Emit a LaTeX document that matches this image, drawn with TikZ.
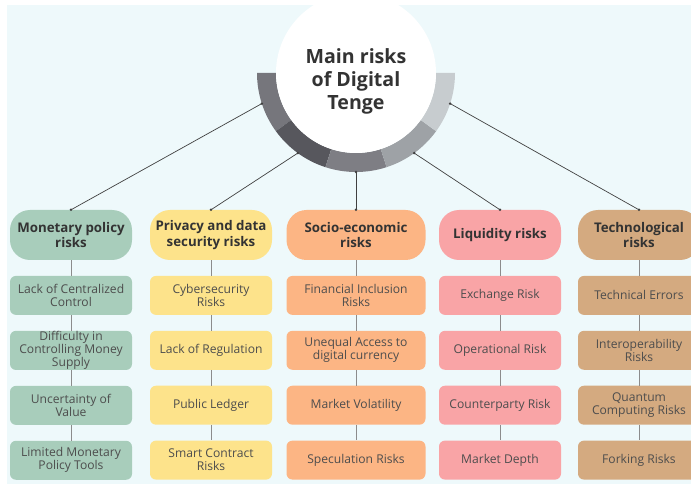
\documentclass[tikz,border=0pt]{standalone}
\usepackage{fontspec}
\setmainfont{Open Sans}
\usetikzlibrary{positioning, calc}

\definecolor{bgblue}{HTML}{EEF9FB}
\definecolor{monclr}{HTML}{A8CDBB}
\definecolor{privclr}{HTML}{FDE38B}
\definecolor{socioclr}{HTML}{FCB584}
\definecolor{liqclr}{HTML}{F9A4A6}
\definecolor{techclr}{HTML}{D4AA80}
\definecolor{ring1}{HTML}{76767C}
\definecolor{ring2}{HTML}{57575D}
\definecolor{ring3}{HTML}{7E7E84}
\definecolor{ring4}{HTML}{9EA2A6}
\definecolor{ring5}{HTML}{C7CCCF}
\definecolor{headtxt}{HTML}{333333}
\definecolor{subtxt}{HTML}{4D4D4D}

\tikzset{
	head/.style={rounded corners=20pt, minimum width=122pt, minimum height=50pt, inner sep=1pt,
		align=center, text=headtxt, font=\fontsize{13.3}{15.5}\selectfont\bfseries},
	item/.style={rounded corners=6pt, minimum width=122pt, minimum height=39pt, inner sep=0.5pt,
		align=center, text=subtxt, font=\fontsize{12.1}{13}\selectfont},
	link/.style={draw=black!75, line width=0.7pt},
	stem/.style={draw=black!45, line width=0.9pt}
}

\begin{document}
\begin{tikzpicture}[x=1pt, y=-1pt, node distance=15.5pt]
			\useasboundingbox (0,0) rectangle (691,486);
			\clip (0,0) rectangle (691,486);
			\fill[white] (0,0) rectangle (691,486);
			\fill[bgblue] (7,5) rectangle (691,484); % background

			% Grey ring under the hub
			\coordinate (c) at (356,73);
			\foreach \a/\clr [count=\i] in {180/ring1, 144/ring2, 108/ring3, 72/ring4, 36/ring5}{
				\fill[\clr] ($(c)+(\a:99)$) arc[start angle=\a, end angle=\a-36, radius=99]
					-- ($(c)+(\a-36:80)$) arc[start angle=\a-36, end angle=\a, radius=80] -- cycle;
				\coordinate (r\i) at ($(c)+(\a-18:99)$);
			}

			% Hub
			\node[circle, fill=white, minimum size=160pt] (hub) at (c) {};
			\node[align=center, text=headtxt, font=\fontsize{19.6}{23}\selectfont\bfseries] (title) at (356,81)
				{Main risks\\of Digital\\Tenge};

			% Column 1
			\node[head, fill=monclr] (mon) at (71,235) {Monetary policy\\risks};
			\node[item, fill=monclr, below=of mon] (mon1) {Lack of Centralized\\Control};
			\node[item, fill=monclr, below=of mon1] (mon2) {Difficulty in\\Controlling Money\\Supply};
			\node[item, fill=monclr, below=of mon2] (mon3) {Uncertainty of\\Value};
			\node[item, fill=monclr, below=of mon3] (mon4) {Limited Monetary\\Policy Tools};

			% Column 2
			\node[head, fill=privclr] (priv) at (211,235) {Privacy and data\\security risks};
			\node[item, fill=privclr, below=of priv] (priv1) {Cybersecurity\\Risks};
			\node[item, fill=privclr, below=of priv1] (priv2) {Lack of Regulation};
			\node[item, fill=privclr, below=of priv2] (priv3) {Public Ledger};
			\node[item, fill=privclr, below=of priv3] (priv4) {Smart Contract\\Risks};

			% Column 3
			\node[head, fill=socioclr, minimum width=139pt] (socio) at (356,235) {Socio-economic\\risks};
			\node[item, fill=socioclr, minimum width=139pt, below=of socio] (socio1) {Financial Inclusion\\Risks};
			\node[item, fill=socioclr, minimum width=139pt, below=of socio1] (socio2) {Unequal Access to\\digital currency};
			\node[item, fill=socioclr, minimum width=139pt, below=of socio2] (socio3) {Market Volatility};
			\node[item, fill=socioclr, minimum width=139pt, below=of socio3] (socio4) {Speculation Risks};

			% Column 4
			\node[head, fill=liqclr] (liq) at (500,235) {Liquidity risks};
			\node[item, fill=liqclr, below=of liq] (liq1) {Exchange Risk};
			\node[item, fill=liqclr, below=of liq1] (liq2) {Operational Risk};
			\node[item, fill=liqclr, below=of liq2] (liq3) {Counterparty Risk};
			\node[item, fill=liqclr, below=of liq3] (liq4) {Market Depth};

			% Column 5
			\node[head, fill=techclr] (tech) at (639,235) {Technological\\risks};
			\node[item, fill=techclr, below=of tech] (tech1) {Technical Errors};
			\node[item, fill=techclr, below=of tech1] (tech2) {Interoperability\\Risks};
			\node[item, fill=techclr, below=of tech2] (tech3) {Quantum\\Computing Risks};
			\node[item, fill=techclr, below=of tech3] (tech4) {Forking Risks};

			% Stems inside each column
			\foreach \h in {mon, priv, socio, liq, tech}{
				\draw[stem] (\h) -- (\h1);
				\draw[stem] (\h1) -- (\h2);
				\draw[stem] (\h2) -- (\h3);
				\draw[stem] (\h3) -- (\h4);
			}

			% Links from the ring to the headers
			\foreach \i/\h in {1/mon, 2/priv, 3/socio, 4/liq, 5/tech}{
				\draw[link] (r\i) -- (\h.north);
				\fill[black!75] (r\i) circle (1.4pt);
				\fill[black!75] (\h.north) circle (1.4pt);
			}
		\end{tikzpicture}
\end{document}
